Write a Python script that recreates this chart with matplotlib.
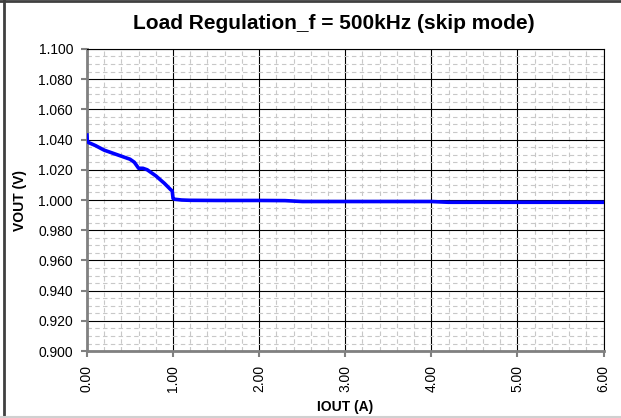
import matplotlib
matplotlib.use("Agg")
import matplotlib.pyplot as plt
from matplotlib.ticker import MultipleLocator, FormatStrFormatter
from matplotlib.lines import Line2D

# Data
iout = [0.0, 0.005, 0.02, 0.1, 0.2, 0.3, 0.4, 0.5, 0.55, 0.6, 0.65, 0.7, 0.8,
        0.9, 0.97, 0.99, 1.0, 1.02, 1.1, 1.2, 1.5, 2.0, 2.3, 2.5, 3.0, 3.5,
        4.0, 4.2, 5.0, 6.0]
vout = [1.043, 1.039, 1.038, 1.036, 1.033, 1.031, 1.029, 1.027, 1.025, 1.021,
        1.021, 1.020, 1.016, 1.011, 1.007, 1.006, 1.001, 1.0005, 1.0, 0.9998,
        0.9997, 0.9997, 0.9996, 0.999, 0.999, 0.999, 0.999, 0.9985, 0.9985,
        0.9985]

title = "Load Regulation_f = 500kHz (skip mode)"
xlabel = "IOUT (A)"
ylabel = "VOUT (V)"

plt.rcParams['font.family'] = ['Liberation Sans', 'DejaVu Sans']

fig = plt.figure(figsize=(6.21, 4.18), dpi=100)
ax = fig.add_axes([0.140, 0.160, 0.832, 0.723])

ax.plot(iout, vout, color='#0000ff', linewidth=2.6, solid_joinstyle='round', zorder=5)

ax.set_xlim(0, 6)
ax.set_ylim(0.9, 1.1)
ax.xaxis.set_major_locator(MultipleLocator(1.0))
ax.xaxis.set_minor_locator(MultipleLocator(0.2))
ax.yaxis.set_major_locator(MultipleLocator(0.02))
ax.yaxis.set_minor_locator(MultipleLocator(0.005))
ax.xaxis.set_major_formatter(FormatStrFormatter('%.2f'))
ax.yaxis.set_major_formatter(FormatStrFormatter('%.3f'))

ax.grid(which='minor', color='#c8c8c8', linestyle=(0, (4, 3)), linewidth=0.8, zorder=1)
ax.grid(which='major', color='black', linestyle='-', linewidth=0.8, zorder=2)
ax.set_axisbelow(True)

for s in ['left', 'bottom']:
    ax.spines[s].set_color('#808080')
    ax.spines[s].set_linewidth(2.0)
for s in ['top', 'right']:
    ax.spines[s].set_color('black')
    ax.spines[s].set_linewidth(0.8)

ax.tick_params(which='major', direction='out', length=4, width=1.5, color='#808080',
               labelsize=10, labelcolor='black')
ax.tick_params(axis='y', which='major', pad=6)
ax.tick_params(axis='x', which='major', pad=6)
ax.tick_params(which='minor', length=0)
plt.setp(ax.get_xticklabels(), rotation=90)

ax.set_xlabel(xlabel, fontsize=10, fontweight='bold', labelpad=6)
ax.set_ylabel(ylabel, fontsize=10, fontweight='bold', labelpad=8)
fig.text(0.538, 0.943, title, ha='center', va='center', fontsize=15, fontweight='bold')

# figure frame
fig.add_artist(Line2D([0.006, 0.006], [0.0, 1.0], transform=fig.transFigure, color='#404040', linewidth=2))
fig.add_artist(Line2D([0.0, 1.0], [0.997, 0.997], transform=fig.transFigure, color='#404040', linewidth=2))
fig.add_artist(Line2D([0.0, 1.0], [0.003, 0.003], transform=fig.transFigure, color='#d0d0d0', linewidth=1.5))

fig.savefig('out.png', dpi=100)
